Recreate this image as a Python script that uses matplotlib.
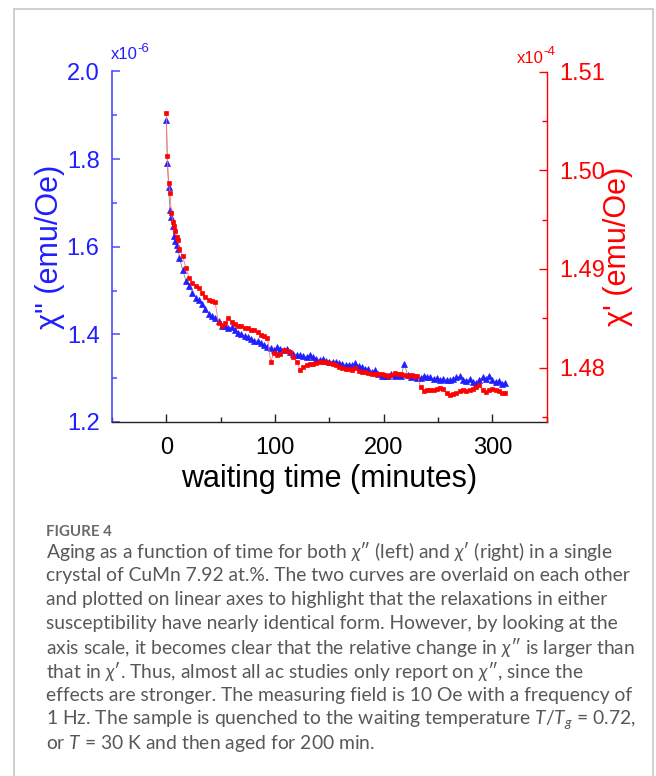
import matplotlib
matplotlib.use("Agg")
import matplotlib.pyplot as plt
from matplotlib.ticker import MultipleLocator, FixedLocator
from matplotlib.patches import Rectangle

# ---------------- data ----------------
time_min = [0, 0.9, 2.1, 3.3, 4.6, 5.8, 7.0, 8.3, 9.5, 10.7, 12.0,
            15, 18, 21, 24, 27, 30, 33, 36, 39, 42, 45, 48, 51, 54, 57, 60,
            63, 66, 69, 72, 75, 78, 81, 84, 87, 90, 93, 96, 99, 102, 105, 108,
            111, 114, 117, 120, 123, 126, 129, 132, 135, 138, 141, 144, 147, 150,
            153, 156, 159, 162, 165, 168, 171, 174, 177, 180, 183, 186, 189, 192,
            195, 198, 201, 204, 207, 210, 213, 216, 219, 222, 225, 228, 231, 234,
            237, 240, 243, 246, 249, 252, 255, 258, 261, 264, 267, 270, 273, 276,
            279, 282, 285, 288, 291, 294, 297, 300, 303, 306, 309, 312]

chi2 = [1.890, 1.792, 1.737, 1.683, 1.668, 1.647, 1.624, 1.613, 1.604, 1.596, 1.575,
        1.548, 1.522, 1.510, 1.494, 1.484, 1.478, 1.470, 1.458, 1.447, 1.441, 1.437, 1.430,
        1.418, 1.420, 1.414, 1.416, 1.410, 1.404, 1.400, 1.396, 1.393, 1.389, 1.386, 1.384,
        1.380, 1.375, 1.372, 1.368, 1.364, 1.372, 1.366, 1.364, 1.367, 1.360, 1.356, 1.354,
        1.352, 1.350, 1.349, 1.354, 1.348, 1.344, 1.341, 1.343, 1.340, 1.338, 1.337, 1.336,
        1.334, 1.333, 1.331, 1.330, 1.329, 1.334, 1.327, 1.325, 1.322, 1.320, 1.313, 1.318,
        1.310, 1.306, 1.304, 1.305, 1.309, 1.306, 1.307, 1.305, 1.333, 1.308, 1.303, 1.304,
        1.301, 1.300, 1.306, 1.303, 1.302, 1.298, 1.301, 1.296, 1.299, 1.297, 1.295, 1.298,
        1.302, 1.304, 1.297, 1.294, 1.298, 1.292, 1.288, 1.296, 1.302, 1.299, 1.306, 1.296,
        1.291, 1.294, 1.287, 1.290]

chi1 = [1.5058, 1.5014, 1.4987, 1.4977, 1.4957, 1.4948, 1.4943, 1.4938, 1.4932, 1.4929, 1.4920,
        1.4913, 1.4901, 1.4891, 1.4886, 1.4883, 1.4881, 1.4876, 1.4872, 1.4869, 1.4867, 1.4866,
        1.4845, 1.4842, 1.4845, 1.4850, 1.4846, 1.4844, 1.4842, 1.4842, 1.4840, 1.4840, 1.4838,
        1.4838, 1.4836, 1.4833, 1.4832, 1.4830, 1.4806, 1.4815, 1.4813, 1.4814, 1.4818, 1.4817,
        1.4816, 1.4811, 1.4806, 1.4798, 1.4801, 1.4803, 1.4804, 1.4804, 1.4805, 1.4806, 1.4806,
        1.4806, 1.4805, 1.4804, 1.4803, 1.4801, 1.4800, 1.4799, 1.4799, 1.4798, 1.4800, 1.4797,
        1.4796, 1.4796, 1.4795, 1.4794, 1.4794, 1.4794, 1.4794, 1.4793, 1.4792, 1.4793, 1.4795,
        1.4794, 1.4794, 1.4793, 1.4792, 1.4793, 1.4792, 1.4792, 1.4780, 1.4776, 1.4777, 1.4777,
        1.4777, 1.4778, 1.4779, 1.4778, 1.4774, 1.4772, 1.4773, 1.4774, 1.4776, 1.4777, 1.4776,
        1.4777, 1.4778, 1.4780, 1.4782, 1.4777, 1.4775, 1.4777, 1.4778, 1.4777, 1.4776, 1.4774,
        1.4774]

x_ticks = [0, 100, 200, 300]
left_ticks = [1.2, 1.4, 1.6, 1.8, 2.0]
right_ticks = [1.48, 1.49, 1.50, 1.51]

BLUE = "#1f1fff"
RED = "#ff0000"
CAP = "#585858"

plt.rcParams["font.family"] = ["Liberation Sans", "DejaVu Sans"]
plt.rcParams["mathtext.fontset"] = "custom"
plt.rcParams["mathtext.rm"] = "Lato"
plt.rcParams["mathtext.it"] = "Lato:italic"

W, H = 656, 776
fig = plt.figure(figsize=(W / 100, H / 100), dpi=100)

def fx(px):
    return px / W

def fy(py):
    return 1 - py / H

# outer frame
fig.patches.append(Rectangle((fx(14), fy(790)), fx(653) - fx(14), fy(9) - fy(790),
                             transform=fig.transFigure, fill=False,
                             edgecolor="#cccccc", linewidth=1.3))

ax = fig.add_axes([fx(112), fy(422), fx(546.7) - fx(112), fy(71.5) - fy(422)])
ax2 = ax.twinx()

ax.plot(time_min, chi2, color="#8a8a8a", lw=0.6, marker="^", ms=3.8,
        mfc=BLUE, mec=BLUE, mew=0.5, zorder=3)
ax2.plot(time_min, chi1, color="#ff7070", lw=0.6, marker="s", ms=3.1,
         mfc=RED, mec=RED, mew=0.5, zorder=3)

ax.set_xlim(-50, 350)
ax.set_ylim(1.2, 2.0)
ax2.set_ylim(1.47449, 1.51)

ax.xaxis.set_major_locator(FixedLocator(x_ticks))
ax.xaxis.set_minor_locator(MultipleLocator(50))
ax.yaxis.set_major_locator(FixedLocator(left_ticks))
ax.yaxis.set_minor_locator(MultipleLocator(0.1))
ax2.yaxis.set_major_locator(FixedLocator(right_ticks))
ax2.yaxis.set_minor_locator(MultipleLocator(0.005))
ax.set_xticklabels([str(v) for v in x_ticks])
ax.set_yticklabels([f"{v:.1f}" for v in left_ticks])
ax2.set_yticklabels([f"{v:.2f}" for v in right_ticks])

for a in (ax, ax2):
    a.spines["top"].set_visible(False)
ax2.spines["left"].set_visible(False)
ax2.spines["bottom"].set_visible(False)
ax.spines["right"].set_visible(False)
ax.spines["left"].set_color("#4a4aff")
ax.spines["left"].set_linewidth(1.2)
ax2.spines["right"].set_color(RED)
ax2.spines["right"].set_linewidth(1.0)
ax.spines["bottom"].set_color("#222222")
ax.spines["bottom"].set_linewidth(1.0)

ax.tick_params(axis="x", which="both", direction="in", colors="#222222",
               labelcolor="black", labelsize=17, pad=11)
ax.tick_params(axis="x", which="major", length=6, width=1)
ax.tick_params(axis="x", which="minor", length=3.5, width=1)
ax.tick_params(axis="y", which="both", direction="in", colors="#4a4aff",
               labelcolor=BLUE, labelsize=17, pad=9)
ax.tick_params(axis="y", which="major", length=6, width=1.1)
ax.tick_params(axis="y", which="minor", length=3.5, width=1.1)
ax2.tick_params(axis="y", which="both", direction="in", colors=RED,
                labelcolor=RED, labelsize=17, pad=9)
ax2.tick_params(axis="y", which="major", length=6, width=1)
ax2.tick_params(axis="y", which="minor", length=3.5, width=1)

ax.set_xlabel("waiting time (minutes)", fontsize=22)
ax.xaxis.set_label_coords(0.5, (422 - 479) / 350.5, transform=ax.transAxes)
ax.xaxis.label.set_va("center")
ax.set_ylabel('\u03c7" (emu/Oe)', fontsize=22, color=BLUE)
ax.yaxis.set_label_coords((50 - 112) / 434.7, 0.5)
ax.yaxis.label.set_va("center")
ax2.set_ylabel("\u03c7' (emu/Oe)", fontsize=22, color=RED)
ax2.yaxis.set_label_coords((618 - 112) / 434.7, 0.5)
ax2.yaxis.label.set_va("center")

# exponent labels
fig.text(fx(111), fy(59), "x10", color=BLUE, fontsize=12, va="baseline", ha="left")
fig.text(fx(137), fy(52), "-6", color=BLUE, fontsize=9.5, va="baseline", ha="left")
fig.text(fx(516.5), fy(63), "x10", color=RED, fontsize=12, va="baseline", ha="left")
fig.text(fx(543), fy(55), "-4", color=RED, fontsize=9.5, va="baseline", ha="left")

# caption
fig.text(fx(46), fy(532.5), "FIGURE 4", family=["Lato", "DejaVu Sans"], fontsize=10.8,
         weight="bold", color="#6a6a6a", va="center", ha="left")
caption_lines = [
    "Aging as a function of time for both $\\chi$\u2033 (left) and $\\chi$\u2032 (right) in a single",
    "crystal of CuMn 7.92 at.%. The two curves are overlaid on each other",
    "and plotted on linear axes to highlight that the relaxations in either",
    "susceptibility have nearly identical form. However, by looking at the",
    "axis scale, it becomes clear that the relative change in $\\chi$\u2033 is larger than",
    "that in $\\chi$\u2032. Thus, almost all ac studies only report on $\\chi$\u2033, since the",
    "effects are stronger. The measuring field is 10 Oe with a frequency of",
    "1 Hz. The sample is quenched to the waiting temperature $T/T_g$ = 0.72,",
    "or $T$ = 30 K and then aged for 200 min.",
]
for i, line in enumerate(caption_lines):
    fig.text(fx(46), fy(551.5 + 24 * i), line, family=["Lato", "DejaVu Sans"],
             fontsize=13.9, color=CAP, va="center", ha="left")

fig.savefig("out.png", dpi=100)
